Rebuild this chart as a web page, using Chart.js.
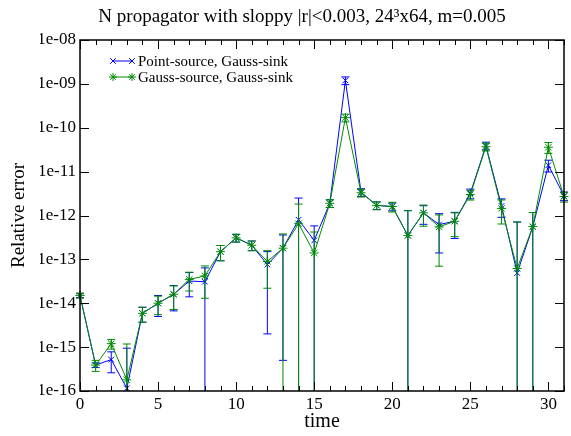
<!DOCTYPE html>
<html>
<head>
<meta charset="utf-8">
<script src="https://cdn.jsdelivr.net/npm/chart.js@4.4.1/dist/chart.umd.min.js"></script>
<style>
  html, body { margin: 0; padding: 0; background: #fff; }
  #wrap { width: 571px; height: 436px; }
</style>
</head>
<body>
<div id="wrap"><canvas id="errChart"></canvas></div>
<script>
// time slices
const times = [0, 1, 2, 3, 4, 5, 6, 7, 8, 9, 10, 11, 12, 13, 14, 15,
               16, 17, 18, 19, 20, 21, 22, 23, 24, 25, 26, 27, 28, 29, 30, 31];

// Point-source, Gauss-sink
const pointVal = [1.5e-14, 3.9e-16, 5.2e-16, 1.15e-16, 5.9e-15, 1.0e-14, 1.6e-14, 3.2e-14,
                  3.1e-14, 1.5e-13, 3.1e-13, 2.1e-13, 7.6e-14, 1.8e-13, 8.0e-13, 2.7e-13,
                  1.9e-12, 1.2e-9, 3.4e-12, 1.7e-12, 1.6e-12, 3.5e-13, 1.15e-12, 6.2e-13,
                  7.4e-13, 3.2e-12, 3.9e-11, 1.65e-12, 4.9e-14, 5.5e-13, 1.4e-11, 2.8e-12];
const pointErr = [1.5e-15, 4.7e-17, 2.6e-16, 8.3e-16, 2.2e-15, 5.0e-15, 9.3e-15, 1.8e-14,
                  3.3e-14, 5.7e-14, 6.2e-14, 5.2e-14, 7.4e-14, 1.795e-13, 1.7e-12, 3.1e-13,
                  3.8e-13, 2.4e-10, 6.8e-13, 3.4e-13, 3.2e-13, 9.4e-13, 5.2e-13, 4.8e-13,
                  4.4e-13, 8.0e-13, 7.8e-12, 7.4e-13, 6.6e-13, 6.2e-13, 4.2e-12, 6.2e-13];

// Gauss-source, Gauss-sink
const gaussVal = [1.5e-14, 3.9e-16, 1.2e-15, 1.8e-16, 5.9e-15, 1.0e-14, 1.6e-14, 3.5e-14,
                  4.2e-14, 1.5e-13, 3.1e-13, 2.1e-13, 9.0e-14, 1.8e-13, 6.5e-13, 1.4e-13,
                  1.9e-12, 1.7e-10, 3.3e-12, 1.7e-12, 1.6e-12, 3.5e-13, 1.15e-12, 5.5e-13,
                  7.4e-13, 3.0e-12, 3.7e-11, 1.45e-12, 6.2e-14, 5.6e-13, 3.6e-11, 2.7e-12];
const gaussErr = [1.8e-15, 1.1e-16, 3.0e-16, 1.0e-15, 2.2e-15, 4.5e-15, 8.8e-15, 1.6e-14,
                  2.9e-14, 5.7e-14, 6.2e-14, 5.2e-14, 6.8e-14, 2.0e-13, 1.17e-12, 2.8e-13,
                  3.8e-13, 3.4e-11, 6.6e-13, 3.4e-13, 4.0e-13, 9.4e-13, 5.8e-13, 4.8e-13,
                  4.1e-13, 7.5e-13, 7.4e-12, 8.1e-13, 6.5e-13, 6.1e-13, 1.0e-11, 6.8e-13];

const xTicks = [0, 5, 10, 15, 20, 25, 30];
const yTicks = [1e-16, 1e-15, 1e-14, 1e-13, 1e-12, 1e-11, 1e-10, 1e-9, 1e-8];

const BLUE = '#0000ff';
const GREEN = '#008c00';
const SERIF = "'Liberation Serif', 'DejaVu Serif', serif";

function expLabel(v) {
    const e = Math.round(Math.log10(v));
    const a = Math.abs(e);
    return '1e' + (e < 0 ? '-' : '+') + (a < 10 ? '0' + a : a);
}

// error bars, drawn right before each dataset's line
const errorBars = {
    id: 'errorBars',
    beforeDatasetDraw(chart, args) {
        const ds = chart.data.datasets[args.index];
        if (!ds.errors) return;
        const {ctx, chartArea} = chart;
        const x = chart.scales.x, y = chart.scales.y;
        ctx.save();
        ctx.beginPath();
        ctx.rect(chartArea.left - 6, chartArea.top, chartArea.width + 12, chartArea.height);
        ctx.clip();
        ctx.strokeStyle = ds.borderColor;
        ctx.lineWidth = 1;
        ds.data.forEach((p, i) => {
            const err = ds.errors[i];
            const px = x.getPixelForValue(p.x);
            const hi = p.y + err;
            const lo = p.y - err;
            const yHi = y.getPixelForValue(hi);
            const yLo = lo > 0 ? Math.min(y.getPixelForValue(lo), chartArea.bottom + 5) : chartArea.bottom + 5;
            ctx.beginPath();
            ctx.moveTo(px, yHi);
            ctx.lineTo(px, yLo);
            ctx.moveTo(px - 4, yHi);
            ctx.lineTo(px + 4, yHi);
            if (lo > 0 && yLo < chartArea.bottom) {
                ctx.moveTo(px - 4, yLo);
                ctx.lineTo(px + 4, yLo);
            }
            ctx.stroke();
        });
        ctx.restore();
    }
};

// frame, inward ticks and legend
const frameAndLegend = {
    id: 'frameAndLegend',
    afterDraw(chart) {
        const {ctx, chartArea} = chart;
        const x = chart.scales.x, y = chart.scales.y;
        const {left, right, top, bottom} = chartArea;
        ctx.save();
        ctx.strokeStyle = '#000';
        ctx.lineWidth = 1.5;
        ctx.strokeRect(left, top, right - left, bottom - top);
        ctx.lineWidth = 1;
        ctx.beginPath();
        for (let t = 0; t <= 31; t++) {
            const px = Math.round(x.getPixelForValue(t)) + 0.5;
            const len = t % 5 === 0 ? 9 : 5;
            ctx.moveTo(px, bottom);
            ctx.lineTo(px, bottom - len);
            ctx.moveTo(px, top);
            ctx.lineTo(px, top + len);
        }
        yTicks.forEach(v => {
            const py = Math.round(y.getPixelForValue(v)) + 0.5;
            ctx.moveTo(left, py);
            ctx.lineTo(left + 9, py);
            ctx.moveTo(right, py);
            ctx.lineTo(right - 9, py);
        });
        ctx.stroke();

        // legend
        const rows = chart.data.datasets;
        ctx.font = '15px ' + SERIF;
        ctx.textBaseline = 'middle';
        ctx.fillStyle = '#000';
        rows.forEach((ds, i) => {
            const ly = 61 + i * 16;
            ctx.strokeStyle = ds.borderColor;
            ctx.lineWidth = 1;
            ctx.beginPath();
            ctx.moveTo(113, ly);
            ctx.lineTo(132, ly);
            ctx.stroke();
            [113, 132].forEach(mx => {
                Chart.helpers.drawPoint(ctx, {
                    pointStyle: ds.pointStyle,
                    radius: 4,
                    borderWidth: 1
                }, mx, ly);
            });
            ctx.fillText(ds.label, 138, ly + 1);
        });
        ctx.restore();
    }
};

function series(vals) {
    return times.map((t, i) => ({x: t, y: vals[i]}));
}

new Chart(document.getElementById('errChart'), {
    type: 'scatter',
    data: {
        datasets: [{
            label: 'Point-source, Gauss-sink',
            data: series(pointVal),
            errors: pointErr,
            showLine: true,
            borderColor: BLUE,
            backgroundColor: BLUE,
            borderWidth: 1,
            pointStyle: 'crossRot',
            pointRadius: 4,
            pointBorderWidth: 1,
            order: 1,
            clip: false
        }, {
            label: 'Gauss-source, Gauss-sink',
            data: series(gaussVal),
            errors: gaussErr,
            showLine: true,
            borderColor: GREEN,
            backgroundColor: GREEN,
            borderWidth: 1,
            pointStyle: 'star',
            pointRadius: 4.5,
            pointBorderWidth: 1,
            order: 0,
            clip: false
        }]
    },
    options: {
        responsive: true,
        maintainAspectRatio: false,
        animation: false,
        layout: {
            padding: {left: 40, right: 7, top: 0, bottom: 0}
        },
        plugins: {
            legend: {display: false},
            tooltip: {enabled: false},
            title: {
                display: true,
                text: 'N propagator with sloppy |r|<0.003, 24³x64, m=0.005',
                color: '#000',
                font: {family: SERIF, size: 19, weight: 'normal', lineHeight: 1.2},
                padding: {top: 5.5, bottom: 11.7}
            }
        },
        scales: {
            x: {
                type: 'linear',
                min: 0,
                max: 31,
                grid: {display: false, drawTicks: false},
                border: {display: false},
                afterBuildTicks: function(scale) {
                    scale.ticks = xTicks.map(v => ({value: v}));
                },
                afterFit: function(scale) {
                    scale.height = 45;
                },
                ticks: {
                    color: '#000',
                    padding: 3,
                    maxRotation: 0,
                    font: {family: SERIF, size: 17}
                },
                title: {
                    display: true,
                    text: 'time',
                    color: '#000',
                    font: {family: SERIF, size: 20},
                    padding: {top: 0, bottom: 2}
                }
            },
            y: {
                type: 'logarithmic',
                min: 1e-16,
                max: 1e-8,
                grid: {display: false, drawTicks: false},
                border: {display: false},
                afterBuildTicks: function(scale) {
                    scale.ticks = yTicks.map(v => ({value: v}));
                },
                afterFit: function(scale) {
                    scale.width = 40;
                },
                ticks: {
                    color: '#000',
                    padding: 4,
                    font: {family: SERIF, size: 17},
                    callback: function(value) {
                        return expLabel(value);
                    }
                },
                title: {
                    display: true,
                    text: 'Relative error',
                    color: '#000',
                    font: {family: SERIF, size: 19},
                    padding: {top: -32, bottom: 0}
                }
            }
        }
    },
    plugins: [errorBars, frameAndLegend]
});
</script>
</body>
</html>
